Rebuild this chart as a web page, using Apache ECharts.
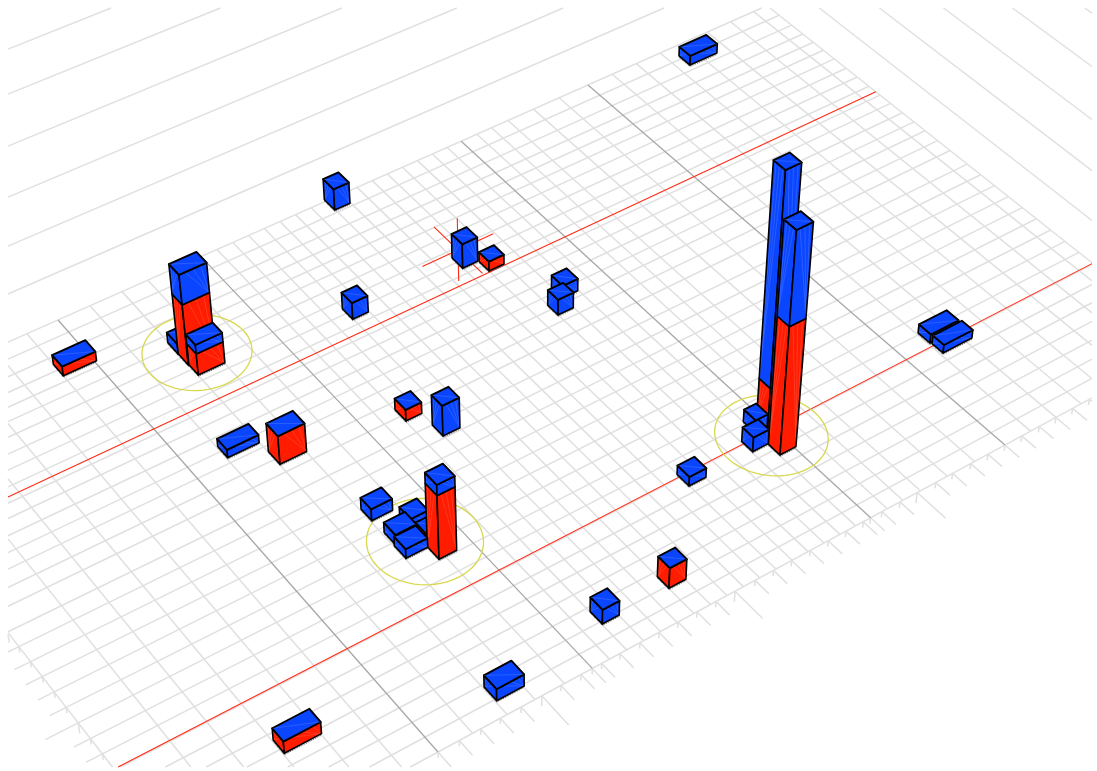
<!DOCTYPE html>
<html><head><meta charset="utf-8">
<style>html,body{margin:0;padding:0;background:#fff}#c{width:1097px;height:771px}</style>
<script src="https://cdn.jsdelivr.net/npm/echarts@6/dist/echarts.min.js"></script>
</head><body><div id="c"></div>
<script>
// ---- plan grid (s along the red lines, t across them)
const minorS=[-0.3655,-0.281,-0.224,-0.1697,-0.1105,-0.0536,0.0557,0.112,0.158,0.2065,0.2824,0.3114,0.3404,0.3694,0.3984,0.4274,0.4564,0.4854,0.5144,0.5434,0.5724,0.6014,0.6304,0.6594,0.6884,0.7174,0.776,0.805,0.838,0.889,0.941,1.05,1.1,1.15,1.2,1.25,1.3,1.35,1.379];
const tickS=[0.0342,0.0688,0.1008,0.1347,0.1689,0.2008,0.2343,0.2691,0.3,0.3342,0.367,0.3998,0.4328,0.466,0.4995,0.535,0.568,0.6007,0.634,0.667,0.6995,0.7314,0.766,0.7997,0.832,0.867,0.899,0.9337,0.967,1.0326,1.067,1.0999,1.133,1.1664];
const minorT=[0,0.032,0.065,0.094,0.121,0.147,0.175,0.205,0.233,0.262,0.29,0.316,0.345,0.373,0.40,0.43,0.46,0.5005,0.532,0.564,0.596,0.628,0.66,0.692,0.724,0.755,0.787,0.82,0.85,0.88,0.91,0.94,0.97,1];
const farT=[-0.093,-0.1889,-0.2903,-0.3997,-0.5155,-0.6196];
const farS=[1.448,1.532,1.6216,1.718,1.819];
const majorS=[0,0.2534,0.745,1];
const longTickS=[0.1689,0.4995,0.832];
const longTickT=[0.5005,0.692,0.88];
const redT=[0.2794,0.7853];
const circleS=[0.1367,0.1998,0.7338];
const circleT=[0.1774,0.6825,0.7942];
const circleR=[0.082,0.082,0.082];
const crossS=[0.5898], crossT=[0.2107];
// ---- bars: front corner (s,t), footprint, red and blue stack values
const barS =[1.1711,0.4841,0.5715,0.6013,0.6583,0.6299,0.3683,-0.0534,0.1112,0.1114,0.1125,0.0578,0.1129,0.3121,0.3391,0.1599,0.1963,0.1963,0.1616,0.1593,0.1963,0.74,0.7174,0.69,0.7183,1.0533,1.0549,0.5716,0.4276,0.3122,0.1143,-0.1678];
const barT =[0.053,0.0253,0.2491,0.2769,0.3894,0.4157,0.249,0.1091,0.1655,0.1938,0.2203,0.3892,0.4427,0.4724,0.5278,0.6084,0.653,0.6934,0.6657,0.6944,0.7218,0.7786,0.777,0.8052,0.8325,0.7782,0.8054,0.8072,0.9446,0.9447,0.973,0.8884];
const barDs=[0.0569,0.0288,0.0282,0.0283,0.0285,0.0288,0.0283,0.0568,0.047,0.047,0.0464,0.0537,0.0456,0.028,0.0301,0.0357,0.03,0.03,0.036,0.037,0.0301,0.0285,0.0226,0.0289,0.0298,0.055,0.0575,0.0308,0.0297,0.029,0.0453,0.0584];
const barDt=[0.0293,0.0295,0.0284,0.0263,0.0285,0.0261,0.0282,0.0296,0.03,0.0283,0.0265,0.0271,0.031,0.0283,0.027,0.027,0.028,0.028,0.0287,0.0287,0.0284,0.0254,0.0268,0.025,0.0263,0.0267,0.0244,0.0275,0.0261,0.0277,0.0289,0.027];
const redH =[0,0,0,3.21,0,0,0,3.09,0,20.2,7.14,0,9.47,3.77,0,0,0,4.08,0,0,21.2,12.95,0,0,42.1,0,0,0,6.8,0,0,3.97];
const blueH=[3.16,7.1,8.2,0,4.13,5.17,5.51,0,3.4,9.8,3.03,2.63,0,0,10.15,3.86,3.4,0,3.41,3.07,3.5,68.4,4.1,4.79,29.7,2.9,2.74,3.07,0,4.79,3.9,0];

// ---- camera: plan + height to the axis space
const CAM={a:582.16,b:322.84,c:58,d:-227.46,e:333.86,f:320,g:0.08871,h:-0.1305,k:-0.00085,vx:539,vy:3750};
function proj(s,t,z){z=z||0;const q=CAM.k*z,w=CAM.g*s+CAM.h*t+1+q;
  return [(CAM.a*s+CAM.b*t+CAM.c+q*CAM.vx)/w,(CAM.d*s+CAM.e*t+CAM.f+q*CAM.vy)/w];}
const CL={x0:8,x1:1092,y0:8,y1:767};
function clip(p,q){let u0=0,u1=1;const dx=q[0]-p[0],dy=q[1]-p[1];
  const T=[[-dx,p[0]-CL.x0],[dx,CL.x1-p[0]],[-dy,p[1]-CL.y0],[dy,CL.y1-p[1]]];
  for(const [a,b] of T){if(a===0){if(b<0)return null;}else{const r=b/a;if(a<0){if(r>u1)return null;if(r>u0)u0=r;}else{if(r<u0)return null;if(r<u1)u1=r;}}}
  return [[p[0]+u0*dx,p[1]+u0*dy],[p[0]+u1*dx,p[1]+u1*dy]];}

function seg(s0,t0,z0,s1,t1,z1){return {p:proj(s0,t0,z0),q:proj(s1,t1,z1)};}
const SMIN=-0.3655,SMAX=1.379;
const light=[];
minorS.forEach(s=>light.push(seg(s,0,0,s,1,0)));
minorT.forEach(t=>light.push(seg(SMIN,t,0,SMAX,t,0)));
farT.forEach(t=>light.push(seg(SMIN-0.6,t,0,SMAX,t,0)));
farS.forEach(s=>light.push(seg(s,-0.6,0,s,1,0)));
// ticks past the front and left edges
tickS.concat(majorS).forEach(s=>{const L=longTickS.includes(s);
  light.push(seg(s,1,0,s,L?1.06:1.03,0));light.push(seg(s,1,0,s,1,L?-3.6:-2));});
minorT.filter(t=>t>=0.5).forEach(t=>{const L=longTickT.includes(t);
  light.push(seg(SMIN,t,0,SMIN-(L?0.05:0.025),t,0));light.push(seg(SMIN,t,0,SMIN,t,L?-3.6:-2));});
const major=majorS.map(s=>seg(s,0,0,s,1,0));
const red=redT.map(t=>seg(SMIN,t,0,SMAX,t,0));
const cross=[];
crossS.forEach((s,i)=>{const t=crossT[i];
  cross.push(seg(s-0.067,t,0,s+0.067,t,0));cross.push(seg(s,t-0.065,0,s,t+0.065,0));cross.push(seg(s,t,-10.8,s,t,10.8));});

function lineSeries(list,color,width,z){return {type:'custom',coordinateSystem:'cartesian2d',silent:true,clip:false,z:z,animation:false,
  data:list.map((_,i)=>[i,0]),encode:{x:0,y:1},
  renderItem(params,api){const l=list[params.dataIndex];const c=clip(l.p,l.q);if(!c)return null;
    const a=api.coord(c[0]),b=api.coord(c[1]);
    return {type:'line',shape:{x1:a[0],y1:a[1],x2:b[0],y2:b[1]},style:{stroke:color,lineWidth:width,fill:null}};}};}

const circles={type:'custom',coordinateSystem:'cartesian2d',silent:true,clip:false,z:5,animation:false,
  data:circleS.map((_,i)=>[i,0]),encode:{x:0,y:1},
  renderItem(params,api){const i=params.dataIndex,pts=[];
    for(let k=0;k<72;k++){const A=k/72*2*Math.PI;pts.push(api.coord(proj(circleS[i]+circleR[i]*Math.cos(A),circleT[i]+circleR[i]*Math.sin(A))));}
    return {type:'polygon',shape:{points:pts},style:{fill:null,stroke:'#d8d84e',lineWidth:1.3}};}};

const BLUE='#0a46ff',RED='#ff1c00';
const fan=[0.22,0.5,0.78];
function face(api,corners,color,children){
  const pts=corners.map(c=>api.coord(proj(c[0],c[1],c[2])));
  children.push({type:'polygon',shape:{points:pts},style:{fill:color,stroke:null}});
  // faint seams of the face, fanned from a bottom corner
  fan.forEach(f=>{const a=pts[0],b=[pts[3][0]+(pts[2][0]-pts[3][0])*f,pts[3][1]+(pts[2][1]-pts[3][1])*f];
    children.push({type:'line',shape:{x1:a[0],y1:a[1],x2:b[0],y2:b[1]},style:{stroke:'rgba(255,255,255,0.18)',lineWidth:0.7}});});
  children.push({type:'polygon',shape:{points:pts},style:{fill:null,stroke:'#000',lineWidth:1.6,lineJoin:'round'}});
}
const order=barS.map((_,i)=>i).sort((a,b)=>(barT[a]-barS[a])-(barT[b]-barS[b]));
const bars={type:'custom',coordinateSystem:'cartesian2d',silent:true,clip:false,z:10,animation:false,
  data:order.map(i=>[i,0]),encode:{x:0,y:1},
  renderItem(params,api){const i=order[params.dataIndex];
    const s0=barS[i],s1=s0+barDs[i],t1=barT[i],t0=t1-barDt[i];
    const ch=[];
    // dotted shadow along the foot
    const sh=[[s0,t0],[s0,t1],[s1,t1]].map(c=>{const p=api.coord(proj(c[0],c[1]));return [p[0],p[1]+1.5];});
    ch.push({type:'polyline',shape:{points:sh},style:{fill:null,stroke:'#666',lineWidth:1,lineDash:[1,1]}});
    const segs=[[0,redH[i],RED],[redH[i],redH[i]+blueH[i],BLUE]];
    segs.forEach(g=>{if(g[1]<=g[0])return;
      face(api,[[s0,t0,g[0]],[s0,t1,g[0]],[s0,t1,g[1]],[s0,t0,g[1]]],g[2],ch);
      face(api,[[s1,t1,g[0]],[s0,t1,g[0]],[s0,t1,g[1]],[s1,t1,g[1]]],g[2],ch);});
    const H=redH[i]+blueH[i];
    const topPts=[[s0,t0],[s1,t0],[s1,t1],[s0,t1]].map(c=>api.coord(proj(c[0],c[1],H)));
    ch.push({type:'polygon',shape:{points:topPts},style:{fill:BLUE,stroke:'#000',lineWidth:1.9,lineJoin:'round'}});
    ch.push({type:'line',shape:{x1:topPts[0][0],y1:topPts[0][1],x2:topPts[2][0],y2:topPts[2][1]},style:{stroke:'rgba(255,255,255,0.18)',lineWidth:0.7}});
    return {type:'group',children:ch};}};

const chart=echarts.init(document.getElementById('c'),null,{renderer:'canvas'});
chart.setOption({animation:false,backgroundColor:'#fff',
  grid:{left:0,right:0,top:0,bottom:0,show:false},
  xAxis:{type:'value',min:0,max:1097,show:false},
  yAxis:{type:'value',min:0,max:771,inverse:true,show:false},
  series:[lineSeries(light,'#e0e0e0',1.5,1),lineSeries(major,'#a8a8a8',1.3,2),lineSeries(red,'#ff2a14',1.1,3),lineSeries(cross,'#ff2a14',1.1,6),circles,bars]});
</script></body></html>
